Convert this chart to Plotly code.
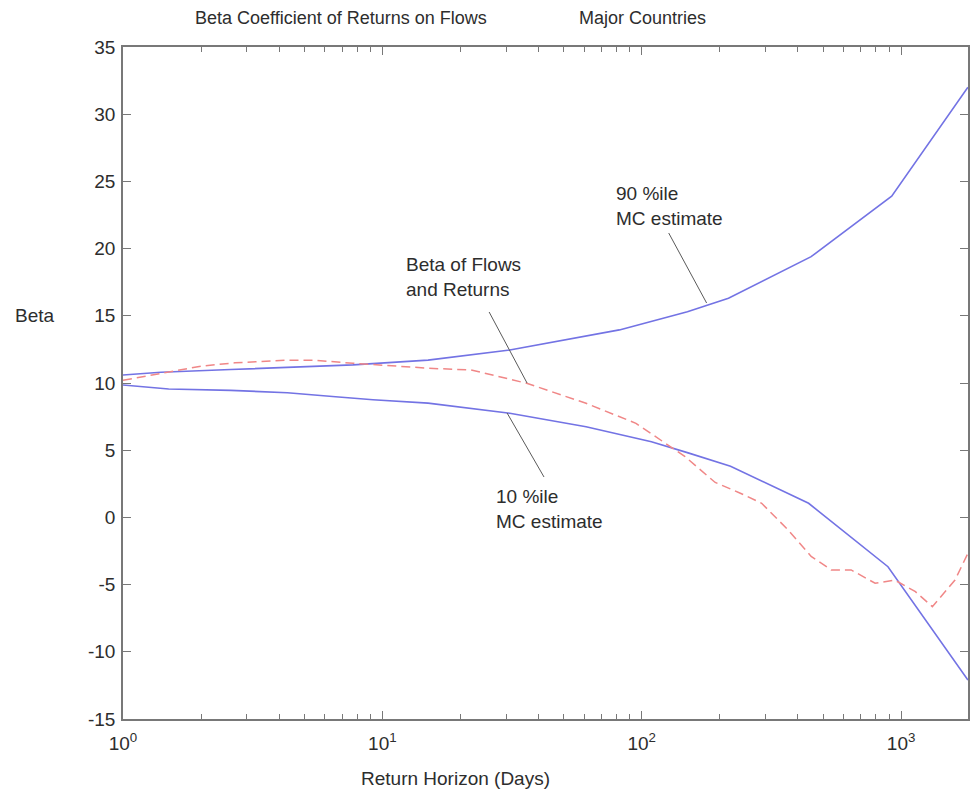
import plotly.graph_objects as go

# ---- data ----
hz_p90 = [1, 1.4, 2.6, 4.5, 7.7, 15, 31, 82, 150, 216, 450, 920, 1810]
beta_p90 = [10.6, 10.8, 11.0, 11.2, 11.35, 11.7, 12.45, 13.95, 15.3, 16.3, 19.4, 23.9, 32.0]

hz_p10 = [1, 1.5, 2.6, 4.3, 6.6, 9.2, 15, 31, 61, 109, 151, 220, 440, 890, 1810]
beta_p10 = [9.85, 9.55, 9.45, 9.28, 8.98, 8.75, 8.5, 7.75, 6.75, 5.63, 4.8, 3.8, 1.05, -3.67, -12.1]

hz_beta = [1, 1.4, 2.0, 2.7, 4.3, 5.4, 7.7, 15, 22, 36, 61, 95, 147, 192, 240, 290, 367,
           450, 538, 642, 794, 945, 1136, 1320, 1614, 1810]
beta_flows = [10.2, 10.7, 11.25, 11.5, 11.7, 11.7, 11.47, 11.1, 10.97, 9.98, 8.49, 7.0, 4.52, 2.6,
              1.8, 1.05, -0.94, -2.9, -3.91, -3.91, -4.9, -4.66, -5.53, -6.64, -4.66, -2.67]

x_tickvals = [1, 10, 100, 1000]
x_ticktext = ["10<sup>0</sup>", "10<sup>1</sup>", "10<sup>2</sup>", "10<sup>3</sup>"]
y_tickvals = [-15, -10, -5, 0, 5, 10, 15, 20, 25, 30, 35]
y_ticktext = ["-15", "-10", "-5", "0", "5", "10", "15", "20", "25", "30", "35"]
minor_vals = [m * d for d in (1, 10, 100, 1000) for m in range(2, 10)]

FONT = "Arial, Liberation Sans, sans-serif"
TXT = "rgb(45,45,45)"
BLUE = "rgb(115,115,228)"
RED = "rgb(240,135,135)"
AX = "rgb(120,120,120)"

fig = go.Figure()
fig.add_trace(go.Scatter(x=hz_p90, y=beta_p90, mode="lines",
                         line=dict(color=BLUE, width=1.6), showlegend=False))
fig.add_trace(go.Scatter(x=hz_p10, y=beta_p10, mode="lines",
                         line=dict(color=BLUE, width=1.6), showlegend=False))
fig.add_trace(go.Scatter(x=hz_beta, y=beta_flows, mode="lines",
                         line=dict(color=RED, width=1.5, dash="9px,5px"), showlegend=False))

W, H = 971, 795
L, R, T, B = 123, 970, 47, 719


def px(x):
    return (x - L) / (R - L)


def py(y):
    return (B - y) / (B - T)


fig.update_layout(
    width=W, height=H,
    margin=dict(l=L, r=W - R, t=T, b=H - B, pad=0),
    paper_bgcolor="white", plot_bgcolor="white",
    font=dict(family=FONT, size=19, color=TXT),
    showlegend=False,
)
fig.update_xaxes(
    type="log", range=[0, 3.258], tickvals=x_tickvals, ticktext=x_ticktext,
    ticks="inside", ticklen=8, tickwidth=1, tickcolor=AX,
    minor=dict(tickvals=minor_vals, ticks="inside", ticklen=5, tickwidth=1,
               tickcolor=AX, showgrid=False),
    showline=True, linecolor=AX, linewidth=1.5, mirror="ticks",
    showgrid=False, zeroline=False, ticklabelstandoff=6,
    tickfont=dict(size=19, color=TXT),
)
fig.update_yaxes(
    range=[-15, 35], tickvals=y_tickvals, ticktext=y_ticktext,
    ticks="inside", ticklen=8, tickwidth=1, tickcolor=AX,
    showline=True, linecolor=AX, linewidth=1.5, mirror="ticks",
    showgrid=False, zeroline=False, ticklabelstandoff=2,
    tickfont=dict(size=19, color=TXT),
)

ann = []
# titles
ann.append(dict(text="Beta Coefficient of Returns on Flows", x=px(193), y=py(18),
                xref="paper", yref="paper", xanchor="left", yanchor="middle", showarrow=False,
                font=dict(size=18)))
ann.append(dict(text="Major Countries", x=px(578), y=py(18),
                xref="paper", yref="paper", xanchor="left", yanchor="middle", showarrow=False,
                font=dict(size=18)))
ann.append(dict(text="Beta", x=px(13), y=py(315),
                xref="paper", yref="paper", xanchor="left", yanchor="middle", showarrow=False))
ann.append(dict(text="Return Horizon (Days)", x=px(360), y=py(778),
                xref="paper", yref="paper", xanchor="left", yanchor="middle", showarrow=False))
# curve labels
ann.append(dict(text="90 %ile<br>MC estimate", x=px(615), y=py(181), align="left",
                xref="paper", yref="paper", xanchor="left", yanchor="top", showarrow=False))
ann.append(dict(text="Beta of Flows<br>and Returns", x=px(405), y=py(252), align="left",
                xref="paper", yref="paper", xanchor="left", yanchor="top", showarrow=False))
ann.append(dict(text="10 %ile<br>MC estimate", x=px(495), y=py(484), align="left",
                xref="paper", yref="paper", xanchor="left", yanchor="top", showarrow=False))
fig.update_layout(annotations=ann)

leaders = [((670, 233), (708, 303)), ((490, 312), (528, 383)), ((508, 413), (545, 477))]
fig.update_layout(shapes=[
    dict(type="line", xref="paper", yref="paper",
         x0=px(a[0]), y0=py(a[1]), x1=px(b[0]), y1=py(b[1]),
         line=dict(color="rgb(90,90,90)", width=1))
    for a, b in leaders
])

fig.write_html("out.html")
